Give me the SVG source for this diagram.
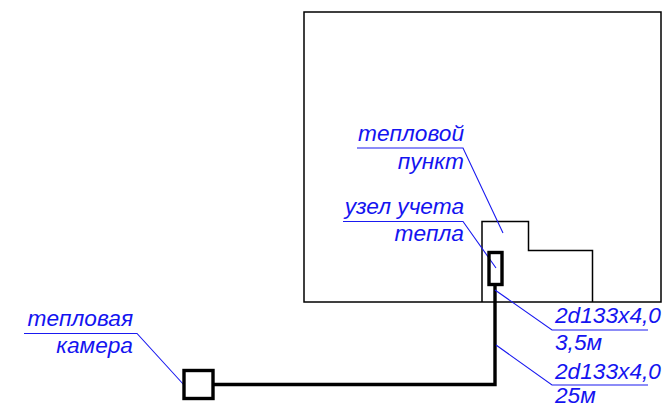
<svg xmlns="http://www.w3.org/2000/svg" width="662" height="408" viewBox="0 0 662 408">
<style>
.o{fill:none;stroke:#000;stroke-width:1.5}
.t{fill:none;stroke:#000;stroke-width:3.4}
.l{fill:none;stroke:#1a1af0;stroke-width:1.1}
text{font-family:"Liberation Sans",Arial,sans-serif;font-style:italic;font-size:22.700px;fill:#1414f0}
.e{text-anchor:end}
</style>
<rect width="662" height="408" fill="#fff"/>
<g id="building"><rect class="o" x="304" y="12" width="357" height="290"/></g>
<g id="heat-point"><path class="o" d="M482 302V221.500H528.500V250.500H592.500V302"/></g>
<g id="connectors">
<path class="t" d="M495 285V384.500H213"/>
<path class="l" d="M357 148H463L503 233"/>
<path class="l" d="M343 221.500H463L496 268"/>
<path class="l" d="M495 290L552 330H648"/>
<path class="l" d="M496 345L552 385H648"/>
<path class="l" d="M24 333.500H137L184 385"/>
</g>
<g id="meter"><rect class="t" x="489" y="252.500" width="13" height="32"/></g>
<g id="chamber"><rect class="t" x="184" y="370.500" width="29" height="28"/></g>
<g id="labels">
<text class="e" x="464" y="141">тепловой</text>
<text class="e" x="464" y="169">пункт</text>
<text class="e" x="464" y="214">узел учета</text>
<text class="e" x="464" y="241">тепла</text>
<text class="e" x="133" y="326">тепловая</text>
<text class="e" x="133" y="353">камера</text>
<text x="555" y="323">2d133x4,0</text>
<text x="555" y="350">3,5м</text>
<text x="555" y="379">2d133x4,0</text>
<text x="555" y="403">25м</text>
</g>
</svg>
